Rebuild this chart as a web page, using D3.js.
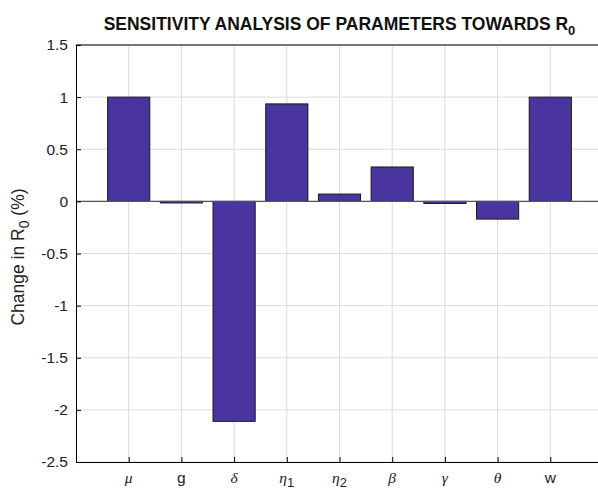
<!DOCTYPE html>
<html>
<head>
<meta charset="utf-8">
<script src="https://cdn.jsdelivr.net/npm/d3@7"></script>
<style>
  body { margin: 0; background: #fff; }
  text { font-family: "Liberation Sans", Arial, sans-serif; }
</style>
</head>
<body>
<div id="chart"></div>
<script>
// parameters and their effect on R0
const params = ["mu", "g", "delta", "eta1", "eta2", "beta", "gamma", "theta", "w"];
const changes = [1.0, -0.015, -2.11, 0.935, 0.07, 0.33, -0.02, -0.17, 1.0];
const yTicks = [-2.5, -2, -1.5, -1, -0.5, 0, 0.5, 1, 1.5];

// how each tick label is written: [main text, subscript, greek?]
const labelParts = {
  mu: ["\u03bc", "", true],
  g: ["g", "", false],
  delta: ["\u03b4", "", true],
  eta1: ["\u03b7", "1", true],
  eta2: ["\u03b7", "2", true],
  beta: ["\u03b2", "", true],
  gamma: ["\u03b3", "", true],
  theta: ["\u03b8", "", true],
  w: ["w", "", false]
};

const width = 598, height = 489;
const margin = {top: 45, right: -5, bottom: 27, left: 76};

const svg = d3.select("#chart").append("svg")
  .attr("width", width)
  .attr("height", height);

const x = d3.scaleLinear()
  .domain([0, params.length + 1])
  .range([margin.left, width - margin.right]);

const y = d3.scaleLinear()
  .domain([-2.5, 1.5])
  .range([height - margin.bottom, margin.top]);

const barW = (x(1) - x(0)) * 0.8;

// grid
svg.append("g").selectAll("line.gy")
  .data(yTicks)
  .enter().append("line")
  .attr("x1", margin.left).attr("x2", width)
  .attr("y1", d => y(d)).attr("y2", d => y(d))
  .attr("stroke", "#dcdcdc").attr("stroke-width", 1);

svg.append("g").selectAll("line.gx")
  .data(params)
  .enter().append("line")
  .attr("x1", (d, i) => x(i + 1)).attr("x2", (d, i) => x(i + 1))
  .attr("y1", margin.top).attr("y2", height - margin.bottom)
  .attr("stroke", "#dcdcdc").attr("stroke-width", 1);

// bars
svg.append("g").selectAll("rect")
  .data(changes)
  .enter().append("rect")
  .attr("x", (d, i) => x(i + 1) - barW / 2)
  .attr("width", barW)
  .attr("y", d => y(Math.max(0, d)))
  .attr("height", d => Math.max(1, Math.abs(y(d) - y(0))))
  .attr("fill", "#4a349e")
  .attr("stroke", "#1a1a1a")
  .attr("stroke-width", 1);

// baseline
svg.append("line")
  .attr("x1", margin.left).attr("x2", width)
  .attr("y1", y(0)).attr("y2", y(0))
  .attr("stroke", "#555").attr("stroke-width", 1.2);

// axes
const yAxis = svg.append("g")
  .attr("transform", `translate(${margin.left},0)`)
  .call(d3.axisLeft(y).tickValues(yTicks).tickSize(-5).tickPadding(8)
    .tickFormat(d => String(d)));
yAxis.select(".domain").attr("stroke", "#000");
yAxis.selectAll("text").attr("font-size", 15.5).attr("fill", "#222")
  .style("font-family", "Liberation Sans, Arial, sans-serif");

const xAxis = svg.append("g")
  .attr("transform", `translate(0,${height - margin.bottom})`)
  .call(d3.axisBottom(x).tickValues(d3.range(1, params.length + 1)).tickSize(-5).tickFormat(""));
xAxis.select(".domain").attr("stroke", "#000");

svg.append("line")
  .attr("x1", margin.left).attr("x2", width)
  .attr("y1", margin.top).attr("y2", margin.top)
  .attr("stroke", "#000");

// x tick labels
const xl = svg.append("g").selectAll("text.xl")
  .data(params)
  .enter().append("text")
  .attr("x", (d, i) => x(i + 1))
  .attr("y", height - 6)
  .attr("text-anchor", "middle")
  .attr("fill", "#222");
xl.append("tspan")
  .text(d => labelParts[d][0])
  .style("font-family", d => labelParts[d][2] ? "Liberation Serif, Times New Roman, serif" : "Liberation Sans, Arial, sans-serif")
  .style("font-style", d => labelParts[d][2] ? "italic" : "normal")
  .attr("font-size", 15.5);
xl.filter(d => labelParts[d][1]).append("tspan")
  .text(d => labelParts[d][1])
  .attr("dy", 4)
  .attr("font-size", 13);

// title
const title = svg.append("text")
  .attr("x", (margin.left + x(params.length + 1)) / 2)
  .attr("y", 30)
  .attr("text-anchor", "middle")
  .attr("font-weight", "bold")
  .attr("font-size", 17.5)
  .attr("fill", "#111");
title.append("tspan").text("SENSITIVITY ANALYSIS OF PARAMETERS TOWARDS R");
title.append("tspan").text("0").attr("font-size", 13).attr("dy", 5);

// y label
const ylab = svg.append("text")
  .attr("transform", "translate(24,257) rotate(-90)")
  .attr("text-anchor", "middle")
  .attr("font-size", 17.5)
  .attr("fill", "#222");
ylab.append("tspan").text("Change in R");
ylab.append("tspan").text("0").attr("font-size", 14).attr("dy", 5);
ylab.append("tspan").text(" (%)").attr("dy", -5);
</script>
</body>
</html>
